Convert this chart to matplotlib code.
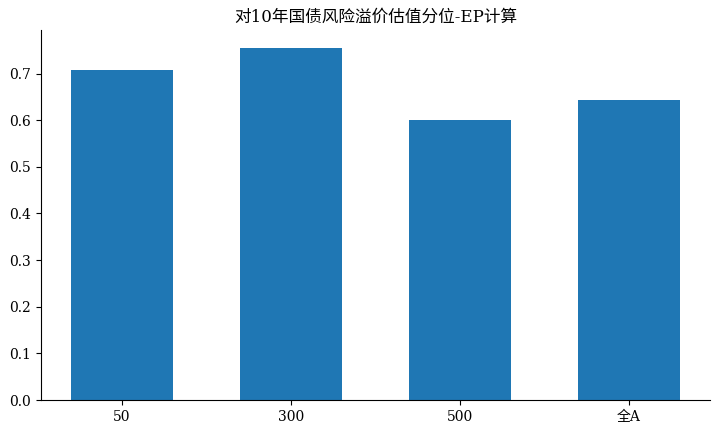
import matplotlib
matplotlib.use("Agg")
import matplotlib.pyplot as plt

plt.rcParams['font.family'] = ['DejaVu Serif', 'Noto Sans CJK SC']

categories = ['50', '300', '500', '全A']
values = [0.708, 0.755, 0.601, 0.644]

fig = plt.figure(figsize=(7.2, 4.32), dpi=100)
ax = fig.add_axes([0.057, 0.074, 0.929, 0.856])
ax.bar(range(len(categories)), values, width=0.6, color='#1f77b4')
ax.set_xticks(range(len(categories)))
ax.set_xticklabels(categories)
ax.spines['top'].set_visible(False)
ax.spines['right'].set_visible(False)
ax.tick_params(labelsize=10)
ax.set_title('对10年国债风险溢价估值分位-EP计算', fontsize=12)
fig.savefig('out.png', dpi=100)
